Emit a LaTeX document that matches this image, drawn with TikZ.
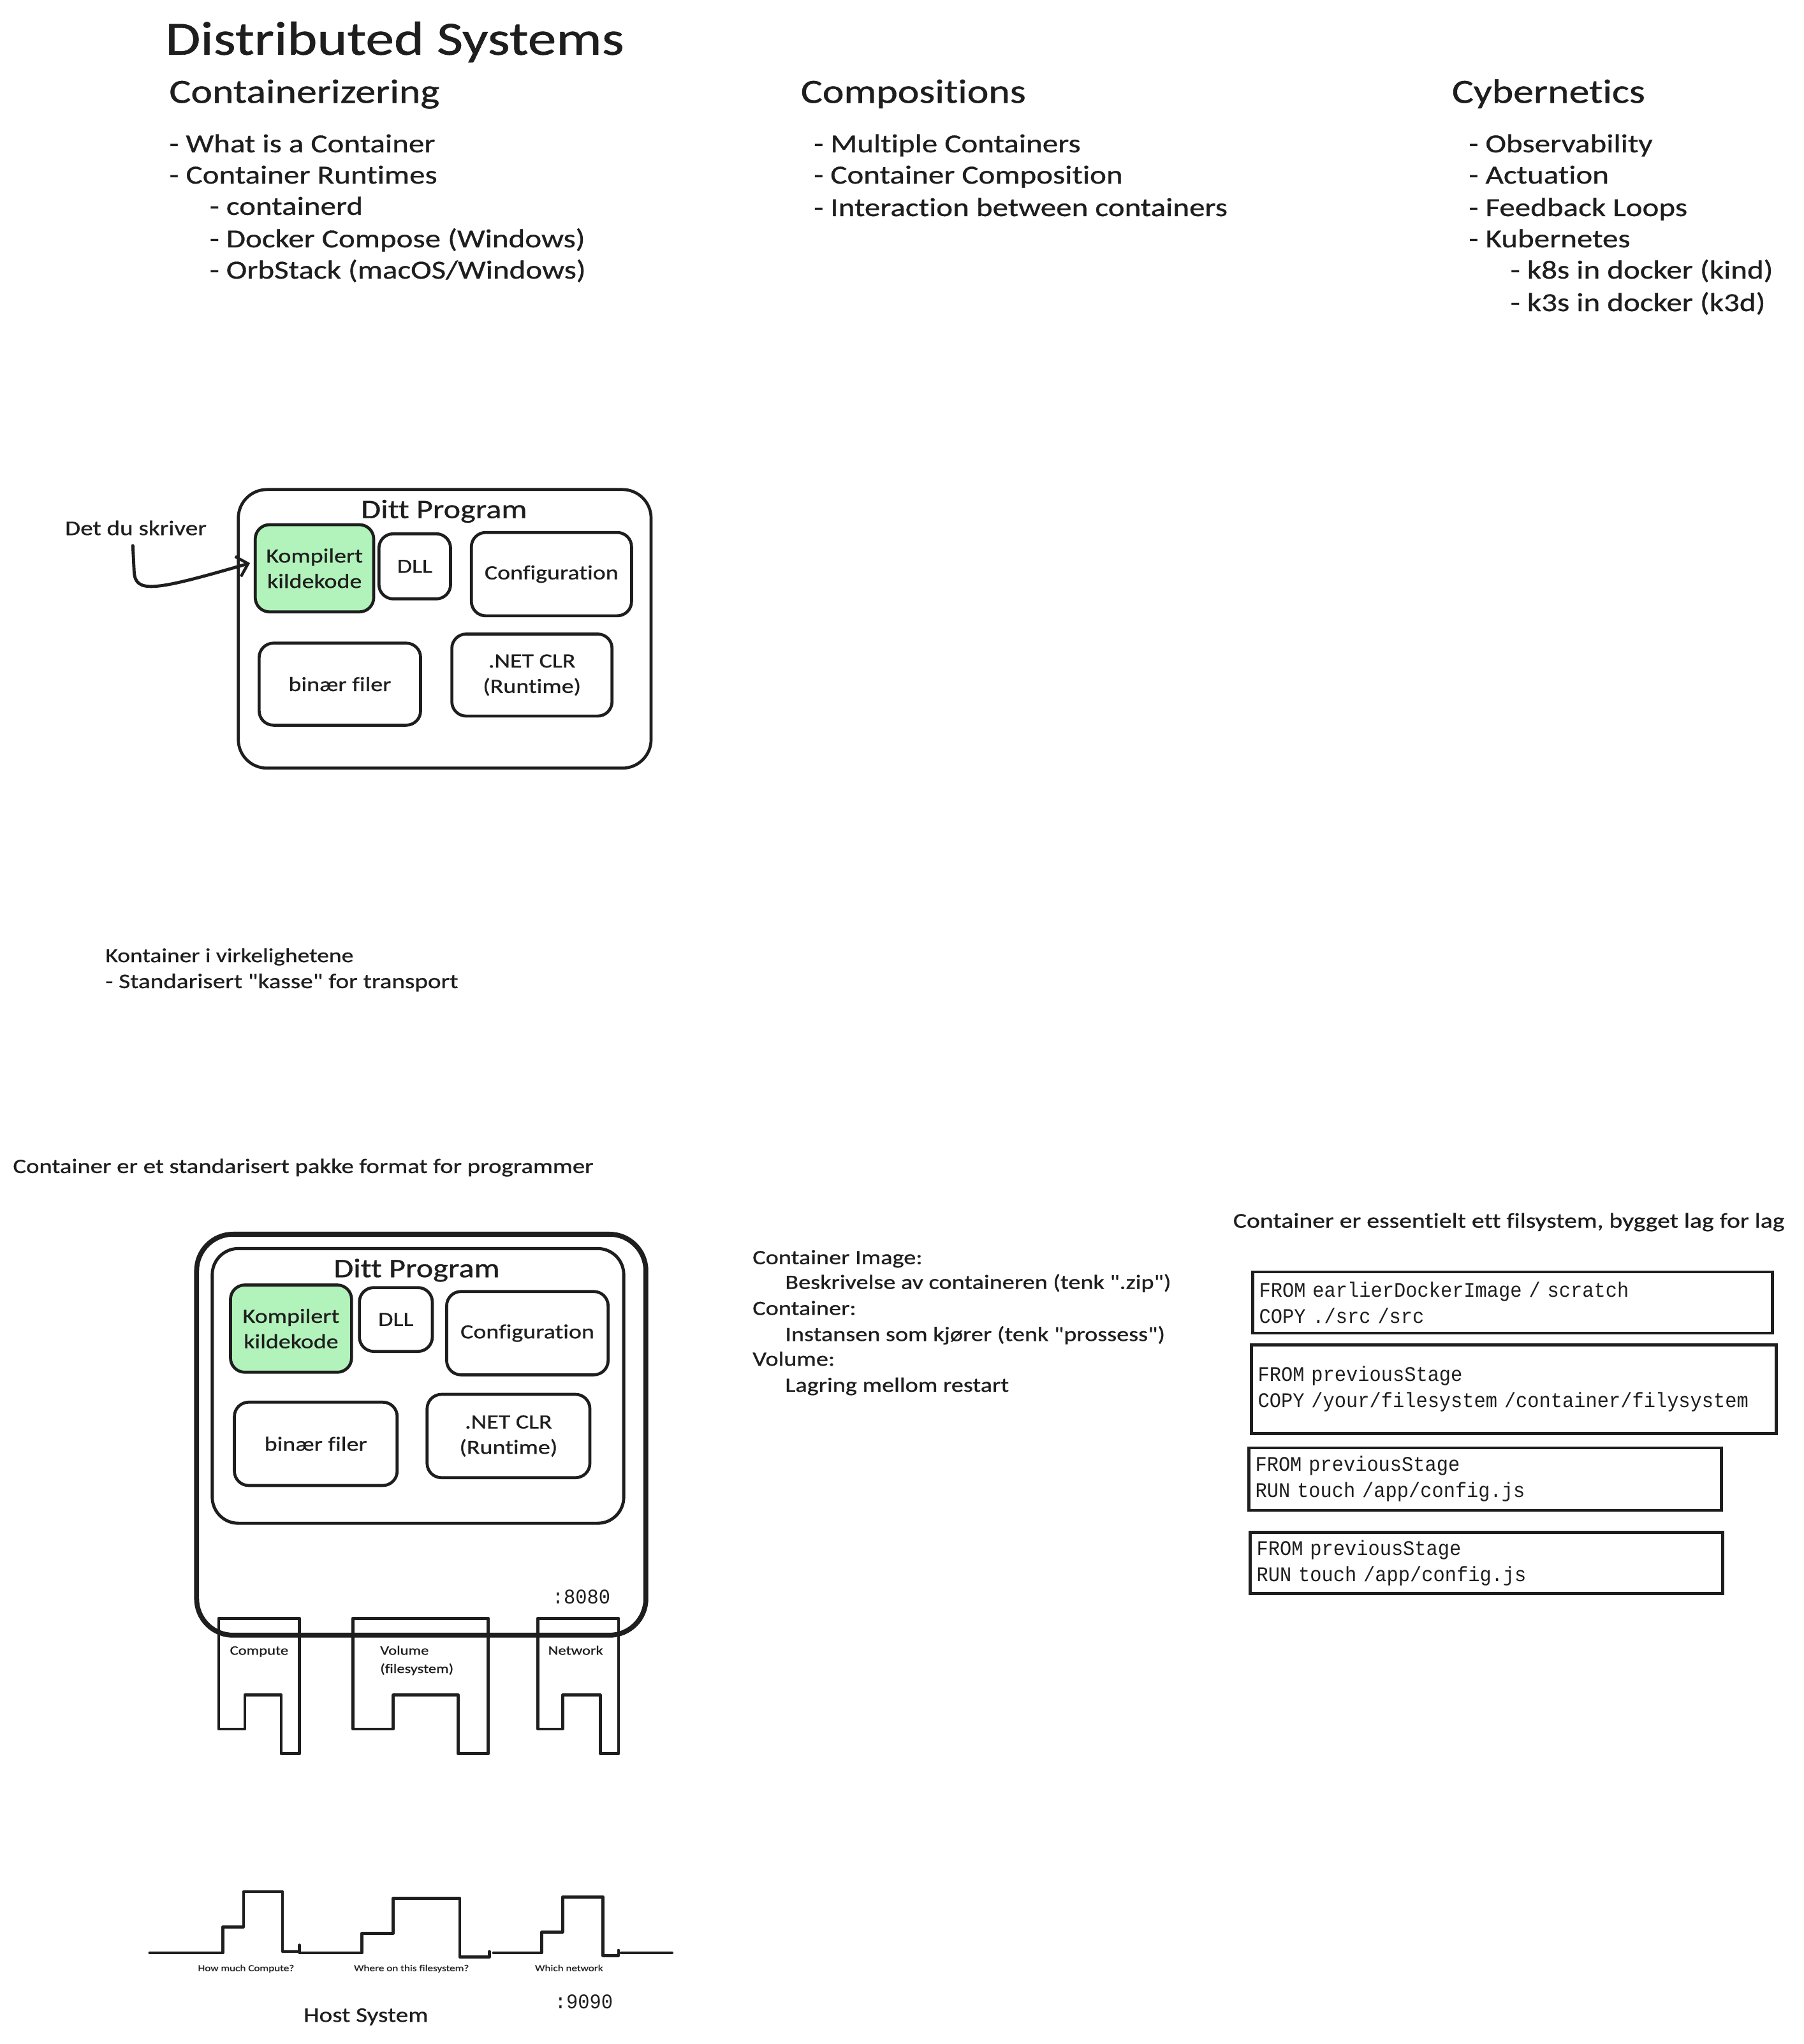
\documentclass[tikz,border=0pt]{standalone}
\usepackage{fontspec}
\newfontfamily\hand{Carlito}[FakeStretch=1.2,FakeBold=0.8,Ligatures=NoCommon]
\newfontfamily\codefont{Liberation Mono}[FakeStretch=0.93]
\usetikzlibrary{arrows.meta,calc}
\definecolor{ink}{HTML}{1E1E1E}
\definecolor{mint}{HTML}{B2F2BB}
\begin{document}
\begin{tikzpicture}[x=1pt,y=-1pt,
  every node/.style={inner sep=0pt,outer sep=0pt,text=ink},
  fs/.style={font=\hand\fontsize{#1}{#1}\selectfont},
  lt/.style={anchor=base west,fs=#1},
  ct/.style={anchor=base,fs=#1},
  rbox/.style={draw=ink,line width=2.3pt,rounded corners=11pt,align=center,
    font=\hand\fontsize{15.5}{19.5}\selectfont},
  dbox/.style={draw=ink,line width=2.2pt,rectangle,anchor=west,align=left,
    inner xsep=5pt,font=\codefont\fontsize{16}{20}\selectfont},
  code/.style={anchor=base west,font=\codefont\fontsize{16}{20}\selectfont},
  outl/.style={draw=ink,line width=2.3pt,line join=round,line cap=round},
  arr/.style={draw=ink,line width=2.4pt,line cap=round,
    -{Straight Barb[length=8pt,width=16pt,line width=2.2pt]}}
]
\fill[white] (0,0) rectangle (1385,1570);
\useasboundingbox (0,0) rectangle (1385,1570);

% ---------- headings ----------
\node[lt=36.5] (title) at (127,42) {Distributed Systems};
\node[lt=26] (h1) at (130,79) {Containerizering};
\node[lt=26] (h2) at (615,79) {Compositions};
\node[lt=26] (h3) at (1115,79) {Cybernetics};

\node[lt=20] (a1) at (130,117) {- What is a Container};
\node[lt=20] (a2) at (130,141) {- Container Runtimes};
\node[lt=20] (a3) at (161,165) {- containerd};
\node[lt=20] (a4) at (161,190) {- Docker Compose (Windows)};
\node[lt=20] (a5) at (161,214) {- OrbStack (macOS/Windows)};

\node[lt=20] (b1) at (625,117) {- Multiple Containers};
\node[lt=20] (b2) at (625,141) {- Container Composition};
\node[lt=20] (b3) at (625,166) {- Interaction between containers};

\node[lt=20] (c1) at (1128,117) {- Observability};
\node[lt=20] (c2) at (1128,141) {- Actuation};
\node[lt=20] (c3) at (1128,166) {- Feedback Loops};
\node[lt=20] (c4) at (1128,190) {- Kubernetes};
\node[lt=20] (c5) at (1160,214) {- k8s in docker (kind)};
\node[lt=20] (c6) at (1160,239) {- k3s in docker (k3d)};

% ---------- first program diagram ----------
\node[rbox,rounded corners=22pt,minimum width=317,minimum height=214] (outer1) at (341.5,483) {};
\node[ct=20.5] (ditt1) at (341,398) {Ditt Program};
\node[rbox,fill=mint,minimum width=91,minimum height=67] (k1) at (241.5,436.5) {Kompilert\\kildekode};
\node[rbox,minimum width=55,minimum height=50] (dll1) at (318.5,435) {DLL};
\node[rbox,minimum width=123,minimum height=64] (cfg1) at (423.5,441) {Configuration};
\node[rbox,minimum width=124,minimum height=63] (bin1) at (261,525.5) {binær filer};
\node[rbox,minimum width=123,minimum height=63] (net1) at (408.5,518.5) {.NET CLR\\(Runtime)};

\node[lt=16] (det) at (50,411) {Det du skriver};
\draw[arr] ($(det.south west)+(52,8)$) -- ++(1,20) .. controls (104,456) and (118,454) .. ($(k1.west)+(-4,-4)$);

\node[lt=15.3] (kv1) at (81,739) {Kontainer i virkelighetene};
\node[lt=16] (kv2) at (81,759) {- Standarisert "kasse" for transport};

\node[lt=15.8] (std) at (10,901) {Container er et standarisert pakke format for programmer};

% ---------- second program diagram (container) ----------
\node[draw=ink,line width=3.8pt,rounded corners=28pt,minimum width=345,minimum height=308] (outer2) at (323.5,1102) {};
\node[draw=ink,line width=2.4pt,rounded corners=20pt,minimum width=316,minimum height=211] (inner2) at (321,1064.5) {};
\node[ct=20.5] (ditt2) at (320,981) {Ditt Program};
\node[rbox,fill=mint,minimum width=93,minimum height=67] (k2) at (223.5,1020.5) {Kompilert\\kildekode};
\node[rbox,minimum width=56,minimum height=49] (dll2) at (304,1013.5) {DLL};
\node[rbox,minimum width=124,minimum height=64] (cfg2) at (405,1024) {Configuration};
\node[rbox,minimum width=125,minimum height=64] (bin2) at (242.5,1109) {binær filer};
\node[rbox,minimum width=125,minimum height=64] (net2) at (390.5,1103) {.NET CLR\\(Runtime)};
\node[code] (p8080) at (424,1232) {:8080};

% legs
\draw[outl] (168,1243) -- (230,1243) -- (230,1347) -- (216,1347) -- (216,1302) -- (188,1302) -- (188,1328) -- (168,1328) -- cycle;
\draw[outl] (271,1243) -- (375,1243) -- (375,1347) -- (352,1347) -- (352,1302) -- (302,1302) -- (302,1328) -- (271,1328) -- cycle;
\draw[outl] (413,1243) -- (475,1243) -- (475,1347) -- (461,1347) -- (461,1302) -- (432,1302) -- (432,1328) -- (413,1328) -- cycle;
\node[ct=10] (lc) at (199,1271) {Compute};
\node[lt=10] (lv1) at (292,1271) {Volume};
\node[lt=10] (lv2) at (292,1285) {(filesystem)};
\node[ct=10] (ln) at (442,1271) {Network};

% host system waveform
\draw[outl] (115,1500) -- (171,1500) -- (171,1480) -- (187,1480) -- (187,1453) -- (217,1453) -- (217,1499) -- (230,1499) -- (230,1494);
\draw[outl] (230,1500) -- (278,1500) -- (278,1485) -- (302,1485) -- (302,1458) -- (353,1458) -- (353,1503) -- (376,1503) -- (376,1499);
\draw[outl] (379,1500) -- (416,1500) -- (416,1484) -- (432,1484) -- (432,1457) -- (463,1457) -- (463,1502) -- (475,1502) -- (475,1498);
\draw[outl] (477,1500) -- (516,1500);
\node[ct=7] (w1) at (189,1514) {How much Compute?};
\node[ct=7] (w2) at (316,1514) {Where on this filesystem?};
\node[ct=7] (w3) at (437,1514) {Which network};
\node[ct=16] (host) at (281,1553) {Host System};
\node[code] (p9090) at (426,1543) {:9090};

% ---------- definitions text ----------
\node[lt=15.6] (d1) at (578,971) {Container Image:};
\node[lt=15.6] (d2) at (603,990) {Beskrivelse av containeren (tenk ".zip")};
\node[lt=15.6] (d3) at (578,1010) {Container:};
\node[lt=15.6] (d4) at (603,1030) {Instansen som kjører (tenk "prossess")};
\node[lt=15.6] (d5) at (578,1049) {Volume:};
\node[lt=15.6] (d6) at (603,1069) {Lagring mellom restart};

% ---------- layers ----------
\node[lt=16.2] (fsys) at (947,943) {Container er essentielt ett filsystem, bygget lag for lag};
\node[dbox,text width=389pt,minimum height=47] (l1) at (962,1000.5) {FROM earlierDockerImage / scratch\\COPY ./src /src};
\node[dbox,text width=393pt,minimum height=68] (l2) at (961,1067) {FROM previousStage\\COPY /your/filesystem /container/filysystem};
\node[dbox,text width=353pt,minimum height=48] (l3) at (959,1136) {FROM previousStage\\RUN touch /app/config.js};
\node[dbox,text width=353pt,minimum height=47] (l4) at (960,1200.5) {FROM previousStage\\RUN touch /app/config.js};
\end{tikzpicture}
\end{document}
